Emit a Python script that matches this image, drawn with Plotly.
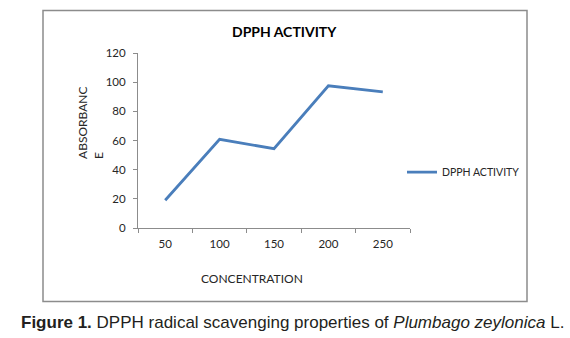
import plotly.graph_objects as go

# ---- data ----
concentrations = ["50", "100", "150", "200", "250"]
dpph_activity = [19.0, 60.8, 54.4, 97.5, 93.4]
series_name = "DPPH ACTIVITY"
y_ticks = [0, 20, 40, 60, 80, 100, 120]

W, H = 570, 338
L, R, T, B = 138, 410, 53.3, 227.7  # plot area in pixels
PW, PH = R - L, B - T


def px(x):
    return (x - L) / PW


def py(y):
    return (B - y) / PH


FONT = "Lato"
fig = go.Figure()
fig.add_trace(go.Scatter(
    x=concentrations, y=dpph_activity, mode="lines", name=series_name,
    line=dict(color="#4A7EBB", width=2.8), showlegend=True,
))

fig.update_layout(
    width=W, height=H,
    margin=dict(l=L, r=W - R, t=T, b=H - B, pad=0),
    paper_bgcolor="white", plot_bgcolor="white",
    font=dict(family=FONT, color="#262626"),
    showlegend=True,
    legend=dict(x=px(402), y=py(172), xanchor="left", yanchor="middle",
                font=dict(family=FONT, size=10.5, color="#262626"),
                bgcolor="rgba(0,0,0,0)", borderwidth=0, tracegroupgap=0),
    xaxis=dict(type="category", range=[-0.5, 4.5], showgrid=False,
               showline=True, linecolor="#8C8C8C", linewidth=1,
               ticks="outside", tickson="boundaries", ticklen=4,
               tickcolor="#8C8C8C", tickfont=dict(family=FONT, size=11.5, color="#262626"),
               ticklabelstandoff=5,
               fixedrange=True, zeroline=False),
    yaxis=dict(range=[0, 120], tickvals=y_ticks, showgrid=False,
               showline=True, linecolor="#8C8C8C", linewidth=1,
               ticks="outside", ticklen=4, tickcolor="#8C8C8C",
               tickfont=dict(family=FONT, size=11.5, color="#262626"),
               ticklabelstandoff=5,
               zeroline=False, fixedrange=True),
    shapes=[dict(type="rect", xref="paper", yref="paper",
                 x0=px(43), x1=px(527), y0=py(301), y1=py(11),
                 line=dict(color="#8C8C8C", width=1.5), fillcolor="rgba(0,0,0,0)")],
    annotations=[
        dict(text="<b>DPPH ACTIVITY</b>", x=px(284), y=py(32), xref="paper", yref="paper",
             xanchor="center", yanchor="middle", showarrow=False,
             font=dict(family=FONT, size=14, color="black")),
        dict(text="ABSORBANC<br>E", x=px(91), y=py(123), xref="paper", yref="paper",
             xanchor="center", yanchor="middle", showarrow=False, textangle=-90, align="left",
             font=dict(family=FONT, size=12, color="#262626")),
        dict(text="CONCENTRATION", x=px(252), y=py(278), xref="paper", yref="paper",
             xanchor="center", yanchor="middle", showarrow=False,
             font=dict(family=FONT, size=12, color="#262626")),
        dict(text="<b>Figure 1.</b> DPPH radical scavenging properties of <i>Plumbago zeylonica</i> L.",
             x=px(292), y=py(322), xref="paper", yref="paper",
             xanchor="center", yanchor="middle", showarrow=False,
             font=dict(family="Liberation Sans", size=17, color="#231F20")),
    ],
)

fig.write_html("out.html", config={"displayModeBar": False},
               post_script="document.body.style.margin='0';document.body.style.padding='0';")
